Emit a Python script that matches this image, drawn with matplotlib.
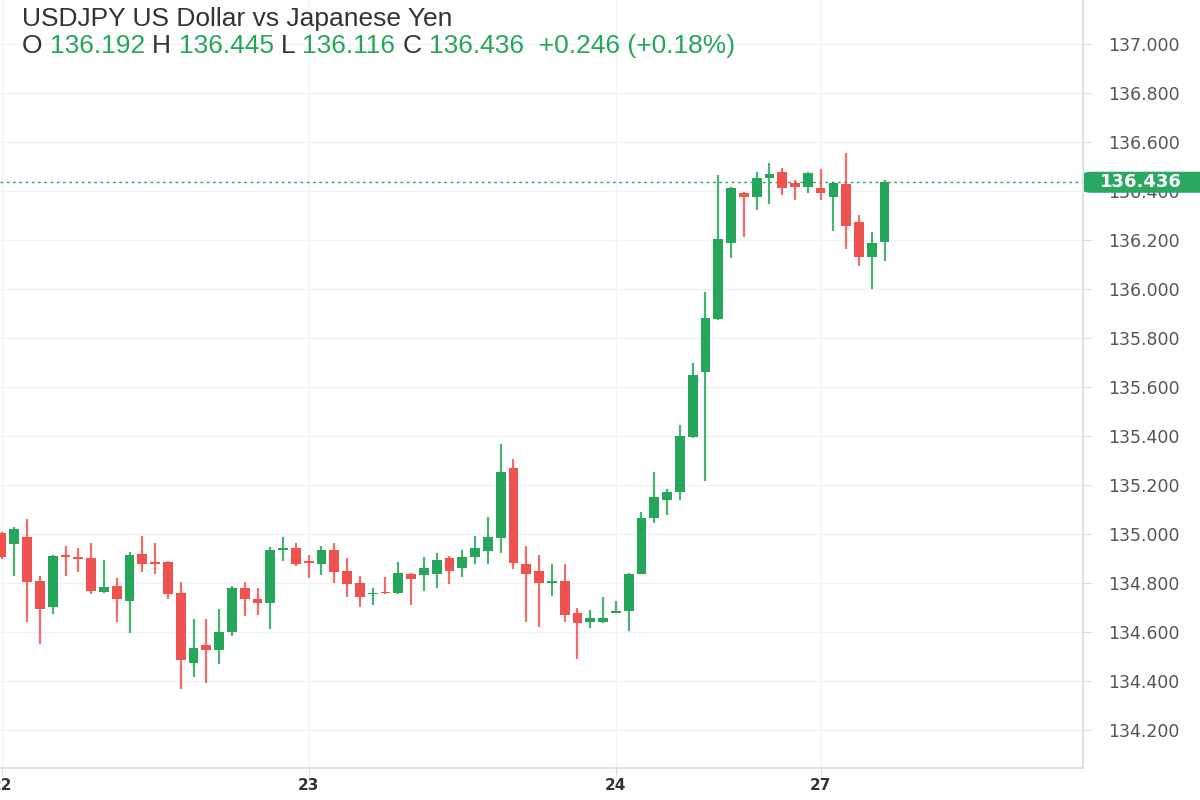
import numpy as np
import matplotlib
matplotlib.use('Agg')
import matplotlib.pyplot as plt
from matplotlib.patches import FancyBboxPatch
from matplotlib.transforms import blended_transform_factory

# hourly USDJPY candles
opens = [135.004, 134.959, 134.988, 134.808, 134.702, 134.914, 134.906, 134.902, 134.763, 134.788,
         134.727, 134.918, 134.882, 134.886, 134.759, 134.473, 134.547, 134.527, 134.600, 134.780,
         134.735, 134.718, 134.935, 134.943, 134.890, 134.878, 134.935, 134.849, 134.800, 134.755,
         134.763, 134.759, 134.837, 134.833, 134.837, 134.902, 134.861, 134.906, 134.931, 134.984,
         135.270, 134.878, 134.849, 134.800, 134.808, 134.678, 134.641, 134.641, 134.678, 134.686,
         134.837, 135.065, 135.139, 135.172, 135.396, 135.662, 135.878, 136.188, 136.392, 136.376,
         136.453, 136.478, 136.433, 136.417, 136.412, 136.376, 136.429, 136.274, 136.131, 136.192]
highs = [135.010, 135.029, 135.061, 134.829, 134.915, 134.951, 134.943, 134.963, 134.894, 134.820,
         134.927, 134.992, 134.963, 134.890, 134.804, 134.653, 134.653, 134.694, 134.788, 134.804,
         134.780, 134.947, 134.988, 134.963, 134.914, 134.951, 134.963, 134.902, 134.829, 134.780,
         134.824, 134.886, 134.840, 134.906, 134.922, 134.910, 134.935, 134.992, 135.069, 135.367,
         135.306, 134.951, 134.914, 134.878, 134.878, 134.698, 134.690, 134.743, 134.727, 134.840,
         135.090, 135.253, 135.184, 135.445, 135.698, 135.988, 136.465, 136.415, 136.395, 136.478,
         136.515, 136.494, 136.445, 136.478, 136.490, 136.436, 136.555, 136.302, 136.233, 136.445]
lows = [134.900, 134.829, 134.641, 134.551, 134.673, 134.829, 134.845, 134.755, 134.760, 134.641,
        134.596, 134.845, 134.837, 134.735, 134.367, 134.416, 134.392, 134.469, 134.584, 134.665,
        134.669, 134.612, 134.890, 134.870, 134.820, 134.833, 134.800, 134.743, 134.702, 134.710,
        134.757, 134.757, 134.710, 134.767, 134.780, 134.796, 134.824, 134.878, 134.878, 134.922,
        134.857, 134.641, 134.620, 134.747, 134.641, 134.490, 134.616, 134.638, 134.676, 134.604,
        134.835, 135.045, 135.078, 135.139, 135.394, 135.216, 135.875, 136.127, 136.212, 136.323,
        136.347, 136.384, 136.364, 136.392, 136.364, 136.237, 136.164, 136.094, 136.000, 136.116]
closes = [134.906, 135.020, 134.804, 134.694, 134.910, 134.906, 134.898, 134.767, 134.784, 134.735,
          134.914, 134.878, 134.878, 134.755, 134.486, 134.535, 134.527, 134.600, 134.780, 134.735,
          134.718, 134.935, 134.943, 134.878, 134.882, 134.935, 134.845, 134.796, 134.743, 134.759,
          134.759, 134.841, 134.816, 134.861, 134.894, 134.849, 134.906, 134.943, 134.988, 135.253,
          134.882, 134.837, 134.800, 134.808, 134.669, 134.637, 134.657, 134.657, 134.686, 134.837,
          135.065, 135.151, 135.172, 135.400, 135.649, 135.882, 136.204, 136.412, 136.376, 136.453,
          136.470, 136.412, 136.417, 136.474, 136.392, 136.433, 136.258, 136.131, 136.188, 136.436]

# day boundaries (candle index) and their labels
day_idx = [0, 24, 48, 64]
day_labels = ['22', '23', '24', '27']
price_ticks = [134.2, 134.4, 134.6, 134.8, 135.0, 135.2, 135.4, 135.6, 135.8, 136.0,
               136.2, 136.4, 136.6, 136.8, 137.0]
change = 0.246
change_pct = 0.18

UP = '#26a65b'
DOWN = '#ef5350'
GRID = '#f0f2f5'
AXIS = '#d6dce6'

plt.rcParams['font.family'] = ['Liberation Sans', 'DejaVu Sans']

fig = plt.figure(figsize=(12, 8), dpi=100)
ax = fig.add_axes([0, 0.04, 1083 / 1200, 0.96])

o = np.array(opens)
h = np.array(highs)
l = np.array(lows)
c = np.array(closes)
x = np.arange(len(o))
up = c >= o
colors = np.where(up, UP, DOWN)

ax.vlines(x, l, h, colors=colors, lw=1.6, alpha=0.85, zorder=3)
body_lo = np.minimum(o, c)
body_h = np.maximum(np.abs(c - o), 0.006)
ax.bar(x, body_h, bottom=body_lo, width=0.76, color=colors, zorder=4, linewidth=0)

ax.set_xlim(-0.12, 84.5)
ax.set_ylim(134.045, 137.18)

# grid
for p in price_ticks:
    ax.axhline(p, color=GRID, lw=1, zorder=0)
for d in day_idx:
    ax.axvline(d, color=GRID, lw=1, zorder=0)

# last price line
last = closes[-1]
ax.axhline(last, color=UP, lw=1, ls=(0, (2, 2.5)), zorder=2)

# axes styling
for s in ['top', 'left']:
    ax.spines[s].set_visible(False)
ax.spines['right'].set_color(AXIS)
ax.spines['bottom'].set_color(AXIS)
ax.spines['right'].set_linewidth(1.2)
ax.spines['bottom'].set_linewidth(1.2)
ax.yaxis.tick_right()
ax.set_yticks(price_ticks)
ax.set_yticklabels(['%.3f' % p for p in price_ticks], fontsize=12.5, color='#555555',
                   family='DejaVu Sans')
ax.tick_params(axis='y', length=6, color=AXIS, pad=12)
ax.set_xticks(day_idx)
ax.set_xticklabels(day_labels, fontsize=11, color='#333333', fontweight='bold',
                   family='DejaVu Sans')
ax.tick_params(axis='x', length=5, color=AXIS, pad=2)

# price tag on the right axis
tr = blended_transform_factory(fig.transFigure, ax.transData)
tag = FancyBboxPatch((1084 / 1200, last - 0.043), 130 / 1200, 0.086,
                     boxstyle='round,pad=0,rounding_size=0.007', transform=tr,
                     fc='#2aa862', ec='none', clip_on=False, zorder=10)
fig.patches.append(tag)
fig.text(1141 / 1200, last, '%.3f' % last, transform=tr, ha='center', va='center',
         fontsize=13, color='white', fontweight='bold', family='DejaVu Sans', zorder=11)

# header
fig.text(22 / 1200, 1 - 19 / 800, 'USDJPY US Dollar vs Japanese Yen', fontsize=19,
         color='#333333', va='center')
parts = [('O ', '#333333'), ('%.3f ' % opens[-1], UP), ('H ', '#333333'), ('%.3f ' % highs[-1], UP),
         ('L ', '#333333'), ('%.3f ' % lows[-1], UP), ('C ', '#333333'),
         ('%.3f  %+.3f (%+.2f%%)' % (closes[-1], change, change_pct), UP)]
renderer = fig.canvas.get_renderer()
xpos = 22
for txt, col in parts:
    t = fig.text(xpos / 1200, 1 - 46 / 800, txt, fontsize=19, color=col, va='center')
    bb = t.get_window_extent(renderer=renderer)
    xpos += bb.width

fig.savefig('out.png', dpi=100, facecolor='white')
